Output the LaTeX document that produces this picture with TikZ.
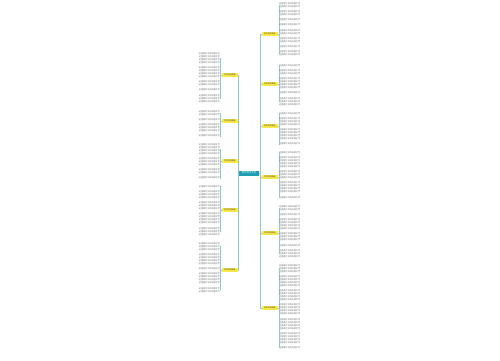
\documentclass[tikz,border=0pt]{standalone}
\usepackage{fontspec}
\newfontfamily\cjk{Noto Sans CJK SC}
\usetikzlibrary{calc,positioning}
\definecolor{tealbox}{HTML}{1E9FB2}
\definecolor{yelbox}{HTML}{F9E84A}
\definecolor{linkc}{HTML}{8FCBD6}

% one text line per count
\newcommand\filler[1]{\foreach \k in {1,...,#1}{\mbox{这里是作文的段落文字}\par}}

% leaves of a right branch: branch name, top y, lines per leaf
\newcommand\leavesR[3]{%
  \foreach \n [count=\i, remember=\i as \j (initially 0)] in {#3} {
    \ifnum\i=1
      \node[leaf, anchor=north west] (#1-\i) at (278.5,#2) {\filler{\n}};
    \else
      \node[leaf, below=2pt of #1-\j] (#1-\i) {\filler{\n}};
    \fi
    \draw[link] (#1.east) -- ++(1.5,0) |- (#1-\i.west);
  }
}
% leaves of a left branch
\newcommand\leavesL[3]{%
  \foreach \n [count=\i, remember=\i as \j (initially 0)] in {#3} {
    \ifnum\i=1
      \node[leaf, anchor=north east] (#1-\i) at (220.5,#2) {\filler{\n}};
    \else
      \node[leaf, below=2pt of #1-\j] (#1-\i) {\filler{\n}};
    \fi
    \draw[link] (#1.west) -- ++(-1.5,0) |- (#1-\i.east);
  }
}

\begin{document}
\begin{tikzpicture}[x=1pt,y=-1pt]

\tikzset{root/.style={fill=tealbox,text=white,font=\cjk\fontsize{2.4}{3}\selectfont,minimum width=20pt,minimum height=5pt,inner sep=0.3pt},
branch/.style={fill=yelbox,text=black!80,font=\cjk\fontsize{1.9}{2.5}\selectfont,minimum width=16pt,minimum height=3.4pt,inner sep=0.2pt},
leaf/.style={font=\cjk\fontsize{2.1}{3}\selectfont,text=black!60,text width=21pt,inner sep=0.4pt,align=left},
link/.style={draw=linkc,line width=0.6pt}}

\useasboundingbox (0,0) rectangle (500,360);

% Centre
\node[root] (root) at (249,173) {作文范文大全};

% Branches
\foreach \y [count=\i] in {34,84,126,177,233,308}
  \node[branch,anchor=west] (R\i) at (261.5,\y) {作文范文精选};
\foreach \y [count=\i] in {75,121,161,210,270}
  \node[branch,anchor=east] (L\i) at (238,\y) {作文范文精选};

\coordinate (rt) at ($(root.east)+(1.5,0)$);
\coordinate (lt) at ($(root.west)+(-0.5,0)$);
\foreach \i in {1,...,6} \draw[link] (root.east) -- (rt) |- (R\i.west);
\foreach \i in {1,...,5} \draw[link] (root.west) -- (lt) |- (L\i.east);

% Leaves
\leavesR{R1}{2}{2,2,1,1,2,2,1,2}
\leavesR{R2}{64}{1,2,4,1,3}
\leavesR{R3}{112}{1,3,4,1}
\leavesR{R4}{151}{1,4,3,4,1}
\leavesR{R5}{205}{2,1,4,3,1,3}
\leavesR{R6}{264}{3,4,4,4,4,4,1}

\leavesL{L1}{52}{4,4,2,1,3}
\leavesL{L2}{110}{2,1,3,1}
\leavesL{L3}{143}{4,3,2,1}
\leavesL{L4}{185}{1,3,3,4,3}
\leavesL{L5}{242}{3,4,1,4,2}

\end{tikzpicture}
\end{document}
